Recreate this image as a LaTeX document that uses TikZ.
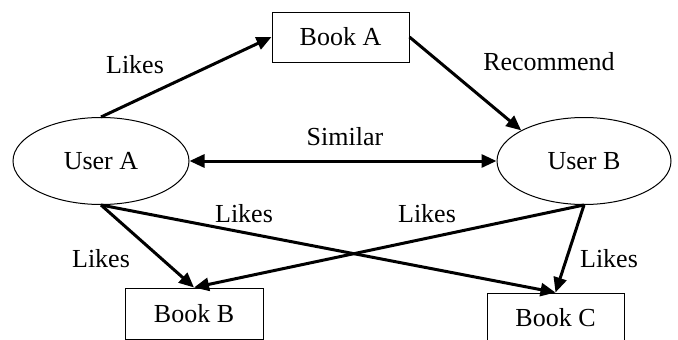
\documentclass[tikz,border=0pt]{standalone}
\usepackage{fontspec}
\setmainfont{Liberation Serif}
\usetikzlibrary{shapes.geometric,arrows.meta}
\begin{document}
\begin{tikzpicture}[x=1pt,y=-1pt,
  every node/.style={font=\fontsize{26}{31}\selectfont, inner sep=0pt},
  bookbox/.style={draw, line width=1pt, rectangle, minimum width=137pt, minimum height=50pt},
  userell/.style={draw, line width=1pt, ellipse, minimum width=176pt, minimum height=87pt},
  edge/.style={line width=3pt, -{Triangle[length=15pt,width=13pt]}},
  dedge/.style={line width=3pt, {Triangle[length=15pt,width=13pt]}-{Triangle[length=15pt,width=13pt]}},
  lbl/.style={anchor=base}]
\useasboundingbox (0,0) rectangle (678,340);
\node[bookbox] (bookA) at (340.5,37) {Book A};
\node[userell] (userA) at (101,161) {User A};
\node[userell, minimum width=174pt] (userB) at (584,161) {User B};
\node[bookbox, minimum width=138pt, minimum height=51pt] (bookB) at (194,313.5) {Book B};
\node[bookbox] (bookC) at (555.5,318) {Book C};

\draw[edge] (userA.north) -- (bookA.west);
\draw[edge] (bookA.east) -- (userB.154);
\draw[dedge] (userA.east) -- (userB.west);
\draw[edge] (userA.south) -- (bookB.north);
\draw[edge] (userA.south) -- (bookC.north);
\draw[edge] (userB.south) -- (bookB.north);
\draw[edge] (userB.south) -- (bookC.north);

\node[lbl] (l1) at (135,73) {Likes};
\node[lbl] (l2) at (549,70) {Recommend};
\node[lbl] (l3) at (345,145) {Similar};
\node[lbl] (l4) at (101,267) {Likes};
\node[lbl] (l5) at (244,222) {Likes};
\node[lbl] (l6) at (427,222) {Likes};
\node[lbl] (l7) at (609,267) {Likes};
\end{tikzpicture}
\end{document}
